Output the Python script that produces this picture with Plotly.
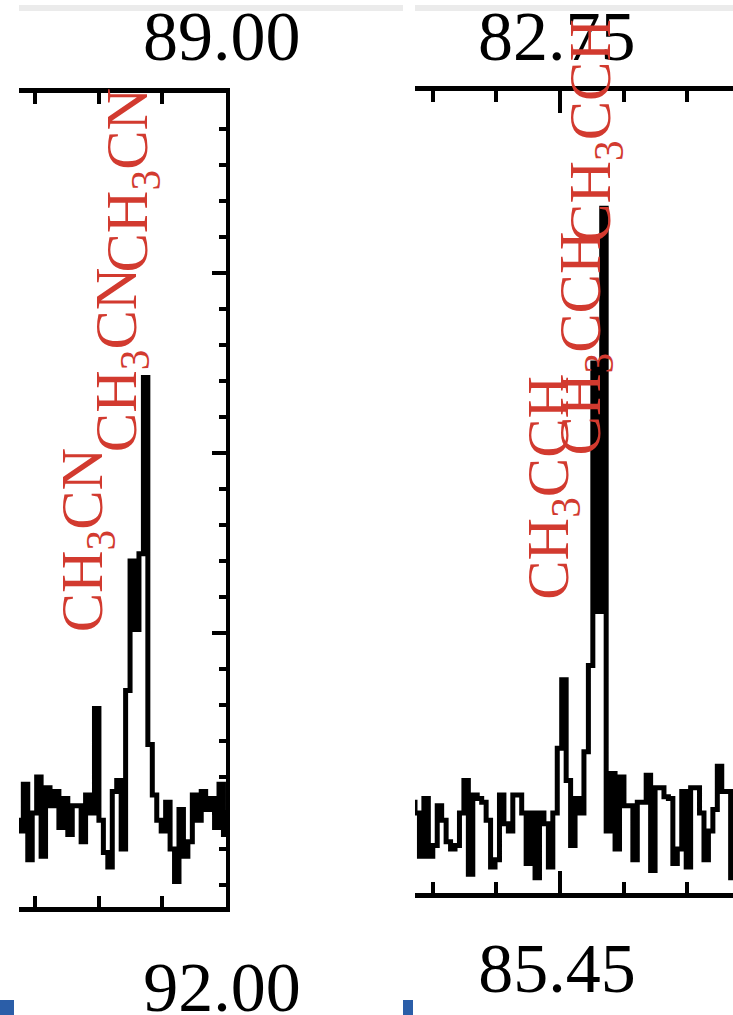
import plotly.graph_objects as go

# ---------------- data ----------------
# channel grids (GHz): centre of first channel and channel width
left_f0 = 91.96705
right_f0 = 85.42682
chan_width = 0.0007

# brightness (arbitrary units) per channel
left_T = [-0.02,
          -0.05, 0.08, -0.13, 0.0, 0.10, -0.12, 0.07, 0.02, 0.06, -0.04,
          0.04, -0.06, 0.02, 0.02, -0.08, 0.05, 0.0, 0.29, -0.02, -0.11,
          -0.15, 0.06, 0.09, -0.10, 0.34, 0.70, 0.51, 0.72, 1.21, 0.19,
          0.05, -0.02, -0.05, 0.03, -0.10, -0.19, 0.01, -0.12, -0.08, 0.05,
          -0.02, 0.06, 0.01, 0.04, -0.04, 0.08, -0.06,
          0.0]
right_T = [0.03,
           0.0, -0.12, 0.04, -0.12, -0.09, 0.02, -0.02, -0.08, -0.10, -0.09,
           0.0, 0.09, -0.17, 0.05, 0.04, 0.03, -0.02, -0.15, -0.13, 0.05,
           -0.03, -0.05, 0.05, 0.05, 0.0, -0.14, 0.0, -0.18, 0.0, -0.03,
           -0.15, 0.0, 0.18, 0.37, 0.09, -0.09, 0.04, 0.0, 0.17, 0.41,
           1.25, 0.56, 1.68, -0.05, 0.11, -0.10, 0.10, 0.02, 0.02, -0.13,
           0.03, 0.03, 0.105, -0.16, 0.07, 0.07, 0.045, 0.04, -0.14, -0.10,
           0.06, -0.15, 0.07, 0.07, 0.0, -0.13, -0.05, 0.01, 0.13, 0.06,
           0.06, -0.18,
           0.0]

left_freq = [round(left_f0 + chan_width * k, 6) for k in range(len(left_T))]
right_freq = [round(right_f0 + chan_width * k, 6) for k in range(len(right_T))]

# line identifications
left_lines = ["CH<sub>3</sub>CN", "CH<sub>3</sub>CN", "CH<sub>3</sub>CN"]
left_line_freq = [91.97999, 91.98531, 91.98709]
left_label_level = [0.5, 1.0, 1.5]
right_lines = ["CH<sub>3</sub>CCH", "CH<sub>3</sub>CCH", "CH<sub>3</sub>CCH"]
right_line_freq = [85.45051, 85.45564, 85.45735]
right_label_level = [0.59, 0.99, 1.58]

top_labels = ["89.00", "82.75"]

# ---------------- figure ----------------
W, H = 733, 1015
def px(x):
    return x / W
def py(y):
    return 1 - y / H

SERIF = "Liberation Serif"
RED = "#d23a2f"

fig = go.Figure()
fig.add_trace(go.Scatter(x=left_freq, y=left_T, mode="lines",
                         line=dict(color="black", width=5, shape="hvh"),
                         xaxis="x", yaxis="y", showlegend=False, hoverinfo="skip"))
fig.add_trace(go.Scatter(x=right_freq, y=right_T, mode="lines",
                         line=dict(color="black", width=5, shape="hvh"),
                         xaxis="x2", yaxis="y2", showlegend=False, hoverinfo="skip"))

xcommon = dict(showgrid=False, zeroline=False, showline=True, linecolor="black",
               linewidth=5, mirror="allticks", ticks="inside", ticklen=22,
               tickwidth=4, tickcolor="black", dtick=0.05, tickformat=".2f",
               automargin=False,
               tickfont=dict(family=SERIF, size=70, color="black"),
               minor=dict(dtick=0.01, ticks="inside", ticklen=11, tickwidth=4,
                          tickcolor="black", showgrid=False))

fig.update_layout(
    template="none",
    width=W, height=H, margin=dict(l=0, r=0, t=0, b=0, autoexpand=False),
    paper_bgcolor="white", plot_bgcolor="white", showlegend=False,
    xaxis=dict(domain=[px(19), px(226)], range=[91.96742, 92.0], anchor="y",
               tick0=92.0, ticklabelstandoff=15, ticklabelshift=-4, **xcommon),
    yaxis=dict(domain=[py(907), py(93)], range=[-0.2611, 2.0], anchor="x",
               side="right", showgrid=False, zeroline=False, showline=True,
               linecolor="black", linewidth=4, ticks="inside", ticklen=14,
               tickwidth=4, tickcolor="black", dtick=0.5, tick0=0,
               showticklabels=False, automargin=False,
               minor=dict(dtick=0.1, ticks="inside", ticklen=7, tickwidth=4,
                          tickcolor="black", showgrid=False)),
    xaxis2=dict(domain=[px(415), 1.0], range=[85.42717, 85.47724], anchor="y2",
                tick0=85.45, ticklabelstandoff=10, ticklabelshift=-3, **xcommon),
    yaxis2=dict(domain=[py(893), py(91)], range=[-0.2222, 2.0056], anchor="x2",
                visible=False, automargin=False),
)

ann = []
for txt, f, lev in zip(left_lines, left_line_freq, left_label_level):
    ann.append(dict(x=f, y=lev, xref="x", yref="y", text=txt, showarrow=False,
                    textangle=-90, xanchor="center", yanchor="bottom", xshift=-13,
                    borderpad=0, font=dict(family=SERIF, size=59, color=RED)))
for txt, f, lev in zip(right_lines, right_line_freq, right_label_level):
    ann.append(dict(x=f, y=lev, xref="x2", yref="y2", text=txt, showarrow=False,
                    textangle=-90, xanchor="center", yanchor="bottom", xshift=-12,
                    borderpad=0, font=dict(family=SERIF, size=59, color=RED)))
# tick labels of the panels above (cut off in the reference)
for txt, xc in zip(top_labels, [222, 557]):
    ann.insert(0, dict(x=px(xc), y=py(36), xref="paper", yref="paper", text=txt,
                       showarrow=False, xanchor="center", yanchor="middle",
                       font=dict(family=SERIF, size=70, color="black")))
fig.update_layout(annotations=ann)

# screenshot-edge decorations
shapes = [
    dict(type="rect", xref="paper", yref="paper", x0=px(19), x1=px(403),
         y0=py(11), y1=py(5), fillcolor="#ebebeb", line=dict(width=0), layer="below"),
    dict(type="rect", xref="paper", yref="paper", x0=px(415), x1=1,
         y0=py(11), y1=py(5), fillcolor="#ebebeb", line=dict(width=0), layer="below"),
    dict(type="rect", xref="paper", yref="paper", x0=0, x1=px(14),
         y0=0, y1=py(1000), fillcolor="#2b5ea8", line=dict(width=0)),
    dict(type="rect", xref="paper", yref="paper", x0=px(403), x1=px(413),
         y0=0, y1=py(1000), fillcolor="#2b5ea8", line=dict(width=0)),
]
fig.update_layout(shapes=shapes)

fig.write_html("out.html")
